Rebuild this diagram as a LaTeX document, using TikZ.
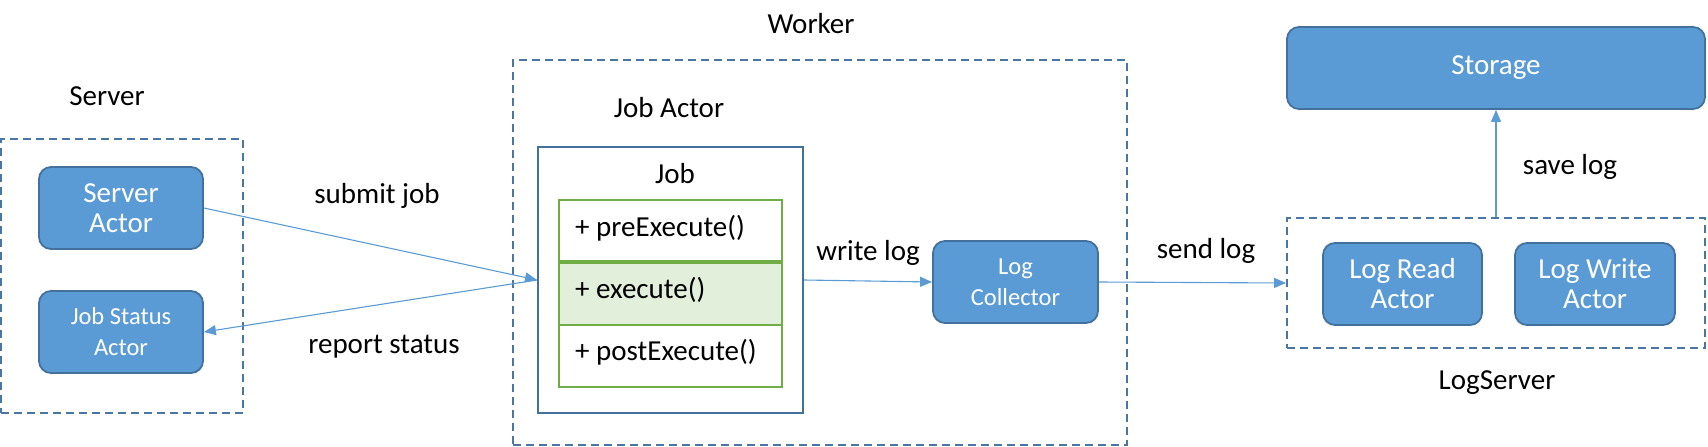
\documentclass[tikz,border=0pt]{standalone}
\usepackage{fontspec}
\setmainfont{Carlito}
\usetikzlibrary{arrows.meta}
\definecolor{boxblue}{HTML}{5B9BD5}
\definecolor{edgeblue}{HTML}{41719C}
\definecolor{dashblue}{HTML}{4A76A3}
\definecolor{greenline}{HTML}{70AD47}
\definecolor{greenfill}{HTML}{E2EFDA}
\begin{document}
\begin{tikzpicture}[x=1pt,y=-1pt,
  actor/.style={draw=edgeblue, line width=1.8pt, fill=boxblue, rounded corners=12pt, text=white, align=center, inner sep=0pt, font=\fontsize{29}{30}\selectfont},
  small/.style={font=\fontsize{24.5}{31}\selectfont},
  group/.style={draw=dashblue, line width=1.8pt, dash pattern=on 8pt off 5pt, inner sep=0pt},
  lbl/.style={font=\fontsize{29}{34}\selectfont, text=black, inner sep=0pt},
  row/.style={draw=greenline, line width=2pt, inner sep=0pt, minimum width=223pt},
  conn/.style={draw=boxblue, line width=1.1pt, -{Triangle[length=12pt,width=10pt]}},
]
\useasboundingbox (0,0) rectangle (1708,447);

% groups
\node[group, minimum width=242pt, minimum height=274pt] (srv) at (122,276) {};
\node[group, minimum width=614pt, minimum height=385pt] (wrk) at (820,252.5) {};
\node[group, minimum width=418pt, minimum height=130pt] (ls) at (1496,283) {};

% group labels
\node[lbl] (srvl) at (107,96) {Server};
\node[lbl] (wrkl) at (811,24) {Worker};
\node[lbl] (jal) at (669,108) {Job Actor};
\node[lbl] (lsl) at (1497,383) {LogServer};

% server actors
\node[actor, minimum width=164pt, minimum height=82pt] (sa) at (121,208) {Server\\Actor};
\node[actor, small, minimum width=164pt, minimum height=82pt] (jsa) at (121,332) {Job Status\\Actor};

% job box
\node[draw=edgeblue, line width=2pt, minimum width=265pt, minimum height=266pt, inner sep=0pt] (job) at (670.5,280) {};
\node[lbl] (jobl) at (675,174) {Job};
\node[row, minimum height=63pt] (r1) at (670.5,231.5) {};
\node[row, fill=greenfill, minimum height=62pt] (r2) at (670.5,294) {};
\node[row, minimum height=62pt] (r3) at (670.5,356) {};
\draw[greenline, line width=3.5pt] (r2.north west) -- (r2.north east);
\node[lbl, anchor=west] (t1) at (575,228) {+ preExecute()};
\node[lbl, anchor=west] (t2) at (575,290) {+ execute()};
\node[lbl, anchor=west] (t3) at (575,352) {+ postExecute()};

% log collector
\node[actor, small, minimum width=165pt, minimum height=82pt] (lc) at (1015.5,282) {Log\\Collector};

% log server
\node[actor, minimum width=159pt, minimum height=82pt] (lr) at (1402.5,284) {Log Read\\Actor};
\node[actor, minimum width=160pt, minimum height=82pt] (lw) at (1595,284) {Log Write\\Actor};
\node[actor, minimum width=418pt, minimum height=82pt] (st) at (1496,68) {\raisebox{-3pt}{Storage}};

% connectors
\draw[conn] (sa.east) -- (job.west);
\draw[conn] (job.west) -- (jsa.east);
\draw[conn] (job.east) -- (lc.west);
\draw[conn] (lc.east) -- (ls.west);
\draw[conn] (ls.north) -- (st.south);

% connector labels
\node[lbl] (l1) at (377,196) {submit job};
\node[lbl] (l2) at (384,347) {report status};
\node[lbl] (l3) at (868,253) {write log};
\node[lbl] (l4) at (1206,251) {send log};
\node[lbl] (l5) at (1570,167) {save log};
\end{tikzpicture}
\end{document}
